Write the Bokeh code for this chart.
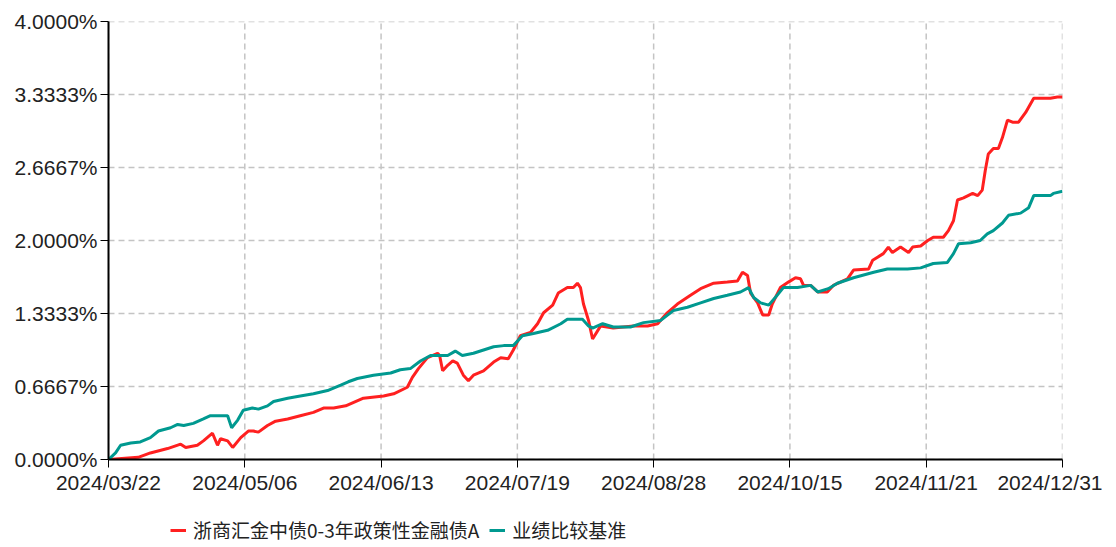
from bokeh.plotting import figure
from bokeh.models import Range1d, FixedTicker, PrintfTickFormatter, Legend, LegendItem
from bokeh.layouts import column
from bokeh.embed import file_html
from bokeh.resources import INLINE

# x axis: trading-day index (0 = 2024/03/22, 189 = 2024/12/31)
tick_days = [0, 27, 54, 81, 108, 135, 162, 189]
tick_labels = ["2024/03/22", "2024/05/06", "2024/06/13", "2024/07/19",
               "2024/08/28", "2024/10/15", "2024/11/21", "2024/12/31"]
y_ticks = [0.0, 4 / 6, 8 / 6, 2.0, 16 / 6, 20 / 6, 4.0]

fund_name = "浙商汇金中债0-3年政策性金融债A"
bench_name = "业绩比较基准"

fund_x = [0, 5.9, 8.3, 11.7, 14.3, 15.3, 17.6, 18.8, 20.6, 21.6, 22.2, 23.6, 24.6, 26.2, 27.7,
          28.7, 29.7, 31.5, 33.1, 35.5, 38.0, 40.6, 42.6, 44.6, 47.0, 50.5, 54.5, 56.5, 59.2,
          60.2, 61.4, 63.2, 65.2, 65.6, 66.2, 67.2, 68.2, 69.1, 70.3, 71.3, 72.3, 74.3, 76.3,
          77.7, 79.2, 80.2, 81.6, 83.6, 85.0, 86.2, 88.0, 89.1, 90.9, 92.1, 92.9, 93.5, 94.1,
          95.1, 95.9, 97.5, 100.0, 104.0, 106.8, 108.8, 110.7, 112.7, 115.3, 117.3, 119.9,
          122.6, 124.6, 125.6, 126.6, 127.2, 128.6, 129.6, 130.8, 131.5, 133.1, 134.7, 136.1,
          137.1, 137.7, 139.1, 140.5, 142.4, 143.6, 146.4, 147.6, 150.6, 151.4, 153.5, 154.5,
          155.3, 156.9, 158.5, 159.3, 160.9, 162.3, 163.4, 165.4, 166.4, 167.4, 168.2, 169.4,
          171.2, 172.2, 173.1, 173.7, 174.3, 175.3, 176.3, 177.1, 178.1, 179.1, 180.3, 181.7,
          183.3, 186.6, 188.0, 189]
fund_y = [0.00, 0.02, 0.06, 0.10, 0.14, 0.11, 0.13, 0.17, 0.24, 0.13, 0.19, 0.17, 0.11, 0.20, 0.26,
          0.26, 0.25, 0.31, 0.35, 0.37, 0.40, 0.43, 0.47, 0.47, 0.49, 0.56, 0.58, 0.60, 0.66,
          0.75, 0.83, 0.93, 0.97, 0.95, 0.81, 0.86, 0.90, 0.88, 0.77, 0.72, 0.77, 0.81, 0.89,
          0.93, 0.92, 1.00, 1.13, 1.16, 1.24, 1.34, 1.41, 1.52, 1.57, 1.57, 1.61, 1.57, 1.42,
          1.27, 1.10, 1.22, 1.20, 1.22, 1.22, 1.24, 1.34, 1.42, 1.50, 1.56, 1.61,
          1.62, 1.63, 1.71, 1.68, 1.52, 1.43, 1.32, 1.32, 1.42, 1.57, 1.62, 1.66,
          1.65, 1.59, 1.59, 1.53, 1.53, 1.59, 1.65, 1.73, 1.74, 1.82, 1.88, 1.94,
          1.89, 1.94, 1.89, 1.94, 1.95, 2.00, 2.03, 2.03, 2.09, 2.18, 2.37, 2.39,
          2.43, 2.41, 2.46, 2.64, 2.79, 2.84, 2.84, 2.94, 3.10, 3.08, 3.08, 3.17,
          3.30, 3.30, 3.31, 3.31]

bench_x = [0, 1.4, 2.4, 4.4, 6.3, 8.3, 9.9, 12.3, 13.7, 14.9, 16.8, 18.8, 20.2, 23.6, 24.4,
           25.6, 26.7, 28.5, 29.7, 31.5, 32.7, 35.5, 38.0, 40.6, 43.4, 46.0, 47.5, 49.3, 52.5,
           55.9, 57.8, 59.8, 61.8, 63.8, 67.2, 68.7, 70.1, 72.3, 74.3, 76.3, 78.3, 80.2, 82.0,
           84.2, 87.0, 89.6, 90.9, 93.9, 95.1, 95.9, 97.9, 100.0, 103.4, 106.0, 109.4, 111.9,
           114.7, 117.3, 119.9, 122.6, 125.2, 126.8, 127.8, 129.2, 130.8, 132.1, 133.7, 136.5,
           139.1, 140.5, 142.6, 144.4, 147.6, 151.6, 154.3, 158.3, 160.9, 163.4, 166.2, 167.4,
           168.4, 170.8, 172.7, 174.1, 175.3, 177.1, 178.3, 180.7, 182.3, 183.3, 186.6, 187.2, 189]
bench_y = [0.00, 0.06, 0.13, 0.15, 0.16, 0.20, 0.26, 0.29, 0.32, 0.31, 0.33, 0.37, 0.40, 0.40, 0.29,
           0.36, 0.45, 0.47, 0.46, 0.49, 0.53, 0.56, 0.58, 0.60, 0.63, 0.68, 0.71, 0.74, 0.77,
           0.79, 0.82, 0.83, 0.90, 0.95, 0.95, 0.99, 0.95, 0.97, 1.00, 1.03, 1.04, 1.04, 1.13,
           1.15, 1.18, 1.24, 1.28, 1.28, 1.22, 1.20, 1.24, 1.21, 1.21, 1.25, 1.27, 1.36,
           1.39, 1.43, 1.47, 1.50, 1.53, 1.57, 1.48, 1.43, 1.41, 1.48, 1.57, 1.57,
           1.59, 1.53, 1.56, 1.61, 1.66, 1.71, 1.74, 1.74, 1.75, 1.79, 1.80, 1.88,
           1.97, 1.98, 2.00, 2.06, 2.09, 2.16, 2.23, 2.25, 2.30, 2.41, 2.41, 2.43, 2.45]

RED = "#FF2020"
TEAL = "#009990"

p = figure(frame_width=954, frame_height=438,
           min_border_left=108, min_border_right=40, min_border_top=21, min_border_bottom=50,
           x_range=Range1d(0, 189), y_range=Range1d(0, 4),
           output_backend="svg", toolbar_location=None, background_fill_color="white",
           border_fill_color="white")
p.outline_line_color = None
p.xgrid.visible = False
p.ygrid.visible = False

# dashed grid (including the top and right borders), from the tick lists
p.segment(x0=tick_days, y0=[0] * len(tick_days), x1=tick_days, y1=[4] * len(tick_days),
          line_color="#c4c4c4", line_dash="6 4", line_width=1.5)
p.segment(x0=[0] * len(y_ticks), y0=y_ticks, x1=[189] * len(y_ticks), y1=y_ticks,
          line_color="#c4c4c4", line_dash="6 4", line_width=1.5)

p.line(fund_x, fund_y, line_color=RED, line_width=3)
p.line(bench_x, bench_y, line_color=TEAL, line_width=3)

# axes
for ax in (p.xaxis[0], p.yaxis[0]):
    ax.axis_line_color = "black"
    ax.axis_line_width = 2
    ax.major_tick_line_color = "black"
    ax.major_tick_line_width = 1
    ax.major_tick_out = 8
    ax.major_tick_in = 0
    ax.minor_tick_line_color = None
    ax.major_label_text_font = "Liberation Sans"
    ax.major_label_text_font_size = "21px"
    ax.major_label_text_color = "#222222"
    ax.major_label_standoff = 3

p.xaxis.ticker = FixedTicker(ticks=tick_days)
p.xaxis.major_label_overrides = {d: lab for d, lab in zip(tick_days, tick_labels)}
p.yaxis.ticker = FixedTicker(ticks=y_ticks)
p.yaxis.formatter = PrintfTickFormatter(format="%.4f%%")

# legend strip below the chart (its frame is aligned with the chart frame)
leg = figure(width=1102, height=36, min_border_left=0, min_border_right=0,
             min_border_top=0, min_border_bottom=0,
             x_range=Range1d(0, 1), y_range=Range1d(0, 1),
             output_backend="svg", toolbar_location=None,
             background_fill_color="white", border_fill_color="white")
leg.outline_line_color = None
leg.axis.visible = False
leg.grid.visible = False
k_fund = leg.line(x=[5, 6], y=[5, 5], line_color=RED, line_width=3)
k_bench = leg.line(x=[5, 6], y=[5, 5], line_color=TEAL, line_width=3)

legend = Legend(items=[LegendItem(label=fund_name, renderers=[k_fund]),
                       LegendItem(label=bench_name, renderers=[k_bench])],
                location=(62, 2), orientation="horizontal",
                label_text_font="Noto Sans CJK SC", label_text_font_size="19px",
                label_text_color="#222222",
                glyph_width=16, glyph_height=20, label_standoff=7, spacing=10,
                padding=0, margin=0, border_line_color=None, background_fill_alpha=0)
leg.add_layout(legend, "center")

open("out.html", "w").write(file_html(column(p, leg, spacing=0), INLINE))
